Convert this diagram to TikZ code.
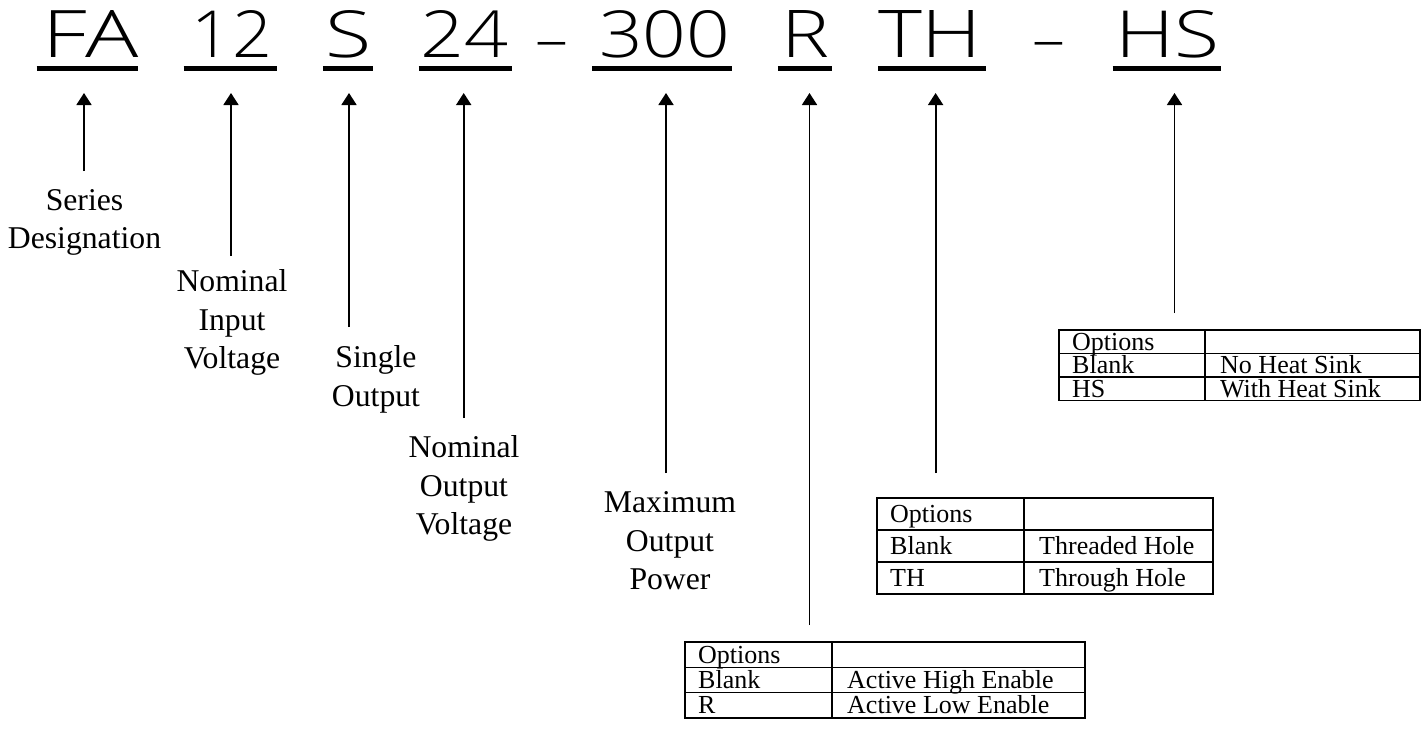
\documentclass[tikz,border=0pt]{standalone}
\usepackage{fontspec}
\setmainfont{Liberation Serif}
\IfFontExistsTF{Open Sans Light}{\newfontfamily\hdrfont{Open Sans Light}}{\newfontfamily\hdrfont{Liberation Sans}}
\usetikzlibrary{arrows.meta}
\newcommand{\lblfont}{\fontsize{31.7}{38.5}\selectfont}
\newcommand{\tblfont}{\fontsize{26}{30}\selectfont}
\newcommand{\hdrtxt}[2]{\resizebox{#1pt}{47pt}{#2}}
\newcommand{\opttable}[9]{%
  \draw[tbl] (#2,#3) rectangle (#5,{#3+3*#6});
  \draw[tbl] (#4,#3) -- (#4,{#3+3*#6});
  \draw[tbl] (#2,{#3+#6}) -- (#5,{#3+#6});
  \draw[tbl] (#2,{#3+2*#6}) -- (#5,{#3+2*#6});
  \node[cell] (#1-o) at ({#2+13},{#3+0.5*#6+8.6}) {Options};
  \node[cell] (#1-b) at ({#2+13},{#3+1.5*#6+8.6}) {Blank};
  \node[cell] (#1-c) at ({#2+13},{#3+2.5*#6+8.6}) {#7};
  \node[cell] (#1-bd) at ({#4+15},{#3+1.5*#6+8.6}) {#8};
  \node[cell] (#1-cd) at ({#4+15},{#3+2.5*#6+8.6}) {#9};
}
\begin{document}
\begin{tikzpicture}[x=1pt,y=-1pt,
  hdr/.style={anchor=base,inner sep=0pt,font=\hdrfont\fontsize{65.6}{70}\selectfont},
  uline/.style={line width=4.7pt},
  arr/.style={line width=1.8pt,-{Triangle[length=12pt,width=15pt]}},
  lbl/.style={anchor=north,inner sep=0pt,align=center,font=\lblfont},
  tbl/.style={line width=1.5pt},
  cell/.style={anchor=base west,inner sep=0pt,font=\tblfont}]
\fill[white] (0,0) rectangle (1427,740);
\useasboundingbox (0,0) rectangle (1427,740);

% header tokens
\node[hdr] (hFA)  at (91,57)   {\hdrtxt{96}{FA}};
\node[hdr] (h12)  at (232,57)  {\hdrtxt{80}{12}};
\node[hdr] (hS)   at (348,57)  {\hdrtxt{46}{S}};
\node[hdr] (h24)  at (464,57)  {\hdrtxt{88}{24}};
\node[hdr] (hd1)  at (552,57)  {\raisebox{-4pt}{–}};
\node[hdr] (h300) at (664.5,57){\hdrtxt{131}{300}};
\node[hdr] (hR)   at (805,57)  {\hdrtxt{48}{R}};
\node[hdr] (hTH)  at (930,57)  {\hdrtxt{104}{TH}};
\node[hdr] (hd2)  at (1049,57) {\raisebox{-4pt}{–}};
\node[hdr] (hHS)  at (1167,57) {\hdrtxt{104}{HS}};

% underlines
\draw[uline] (36.7,68.3) -- (137.7,68.3);
\draw[uline] (183.7,68.3) -- (276.9,68.3);
\draw[uline] (322.8,68.3) -- (373.3,68.3);
\draw[uline] (418.7,68.3) -- (511.9,68.3);
\draw[uline] (592.3,68.3) -- (731.5,68.3);
\draw[uline] (777.9,68.3) -- (832.1,68.3);
\draw[uline] (878,68.3) -- (986,68.3);
\draw[uline] (1112.6,68.3) -- (1221.1,68.3);

% labels
\node[lbl] (lSer)  at (84.5,189.2) {Series\\Designation};
\node[lbl] (lNin)  at (232,269.5)  {Nominal\\Input\\Voltage};
\node[lbl] (lSng)  at (376,345.5)  {Single\\Output};
\node[lbl] (lNout) at (464,435.5)  {Nominal\\Output\\Voltage};
\node[lbl] (lMax)  at (670,491.5)  {Maximum\\Output\\Power};

% tables
\opttable{tHS}{1059}{330}{1205}{1420}{23.5}{HS}{No Heat Sink}{With Heat Sink}
\opttable{tTH}{877}{498}{1024}{1213}{32}{TH}{Threaded Hole}{Through Hole}
\opttable{tR}{685}{642}{832}{1085}{25.3}{R}{Active High Enable}{Active Low Enable}

% arrow end points
\coordinate (aFA)  at (84,93);    \coordinate (bFA)  at (84,171);
\coordinate (a12)  at (231,93);   \coordinate (b12)  at (231,256);
\coordinate (aS)   at (349,93);   \coordinate (bS)   at (349,327);
\coordinate (a24)  at (463.7,93); \coordinate (b24)  at (463.7,418);
\coordinate (a300) at (666,93);   \coordinate (b300) at (666,473);
\coordinate (aR)   at (809.5,93); \coordinate (bR)   at (809.5,625);
\coordinate (aTH)  at (935.6,93); \coordinate (bTH)  at (935.6,473);
\coordinate (aHS)  at (1174.5,93);\coordinate (bHS)  at (1174.5,313);

\draw[arr] (bFA) -- (aFA);
\draw[arr] (b12) -- (a12);
\draw[arr] (bS) -- (aS);
\draw[arr] (b24) -- (a24);
\draw[arr] (b300) -- (a300);
\draw[arr] (bR) -- (aR);
\draw[arr] (bTH) -- (aTH);
\draw[arr] (bHS) -- (aHS);
\end{tikzpicture}
\end{document}
